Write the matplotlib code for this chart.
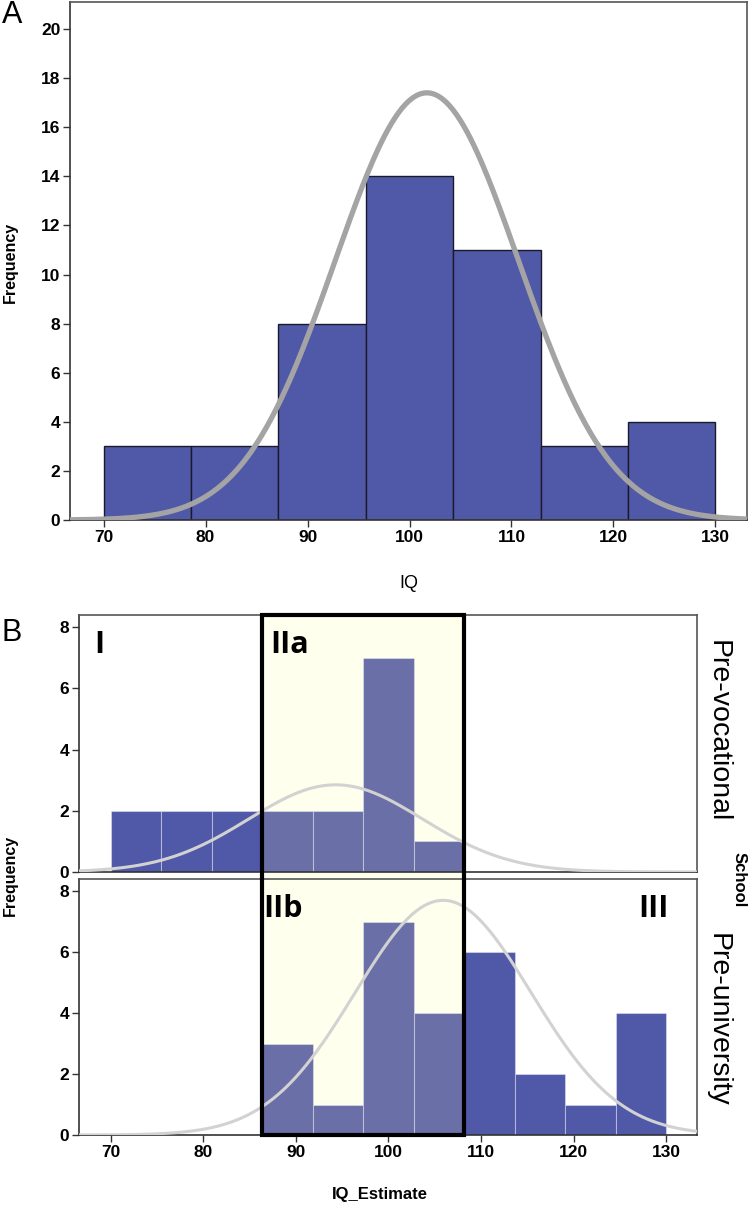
import numpy as np
import matplotlib
matplotlib.use('Agg')
import matplotlib.pyplot as plt
from matplotlib.patches import Rectangle
from matplotlib.transforms import blended_transform_factory
from matplotlib.font_manager import FontProperties

# Panel A: IQ histogram (7 bins, 70-130)
iq_edges = np.linspace(70, 130, 8)
iq_counts = [3, 3, 8, 14, 11, 3, 4]
iq_curve = dict(mean=101.7, sd=9.0, peak=17.4)

# Panel B: IQ_Estimate per school type (11 bins, 70-130)
est_edges = np.linspace(70, 130, 12)
prevoc_counts = [2, 2, 2, 2, 2, 7, 1, 0, 0, 0, 0]
preuni_counts = [0, 0, 0, 3, 1, 7, 4, 6, 2, 1, 4]
prevoc_curve = dict(mean=94.3, sd=9.4, peak=2.85)
preuni_curve = dict(mean=105.9, sd=9.5, peak=7.7)
box_range = (est_edges[3], est_edges[7])  # region II

BAR = '#5058a8'
BAR_IN = '#6a6fa8'
YELLOW = '#ffffee'
TICKFONT = dict(family='Liberation Sans', size=12.5, weight='bold')


def normal_curve(x, p):
    return p['peak'] * np.exp(-(x - p['mean']) ** 2 / (2 * p['sd'] ** 2))


def style_axes(ax):
    for s in ax.spines.values():
        s.set_color('#555555')
        s.set_linewidth(1.2)
    ax.spines['left'].set_color('#333333')
    ax.spines['bottom'].set_color('#333333')
    ax.tick_params(direction='out', length=5, width=1, color='#333333', pad=2)
    for lab in ax.get_xticklabels() + ax.get_yticklabels():
        lab.set_fontproperties(FontProperties(**TICKFONT))


fig = plt.figure(figsize=(7.49, 12.11), dpi=100)

# ---- Panel A ----
axA = fig.add_axes([70 / 749, 1 - 520 / 1211, 677 / 749, 518 / 1211])
axA.bar(iq_edges[:-1], iq_counts, width=np.diff(iq_edges), align='edge',
        color=BAR, edgecolor='#1a1a2a', linewidth=1.0)
xs = np.linspace(66.5, 133.5, 400)
axA.plot(xs, normal_curve(xs, iq_curve), color='#a4a4a4', lw=3.8, zorder=3)
axA.set_xlim(66.7, 133.1)
axA.set_ylim(0, 21.1)
axA.set_xticks(range(70, 131, 10))
axA.set_yticks(range(0, 21, 2))
style_axes(axA)
axA.set_xlabel('IQ', fontsize=13, family='Liberation Sans', labelpad=22)
fig.text(10 / 749, 1 - 262 / 1211, 'Frequency', rotation=90, fontsize=11.5,
         family='Liberation Sans', weight='bold', ha='center', va='center')
fig.text(0.002, 0.988, 'A', fontsize=22, family='Liberation Sans', va='center')

# ---- Panel B ----
left, width = 79 / 749, 618 / 749
axU = fig.add_axes([left, 1 - 872 / 1211, width, 257 / 1211], facecolor='none')
axL = fig.add_axes([left, 1 - 1135 / 1211, width, 256 / 1211], facecolor='none')

# shaded region II across both panels
trans = blended_transform_factory(axL.transData, fig.transFigure)
y0, y1 = 1 - 1135 / 1211, 1 - 615 / 1211
fig.patches.append(Rectangle((box_range[0], y0), box_range[1] - box_range[0], y1 - y0,
                             transform=trans, facecolor=YELLOW, edgecolor='none', zorder=-1))
fig.patches.append(Rectangle((box_range[0], y0), box_range[1] - box_range[0], y1 - y0,
                             transform=trans, facecolor='none', edgecolor='black', lw=3, zorder=5))

for ax, counts, curve in [(axU, prevoc_counts, prevoc_curve), (axL, preuni_counts, preuni_curve)]:
    lefts = est_edges[:-1]
    cols = [BAR_IN if (l >= box_range[0] - 1e-6 and l < box_range[1] - 1e-6) else BAR for l in lefts]
    ax.bar(lefts, counts, width=np.diff(est_edges), align='edge', color=cols,
           edgecolor=(1, 1, 1, 0.35), linewidth=0.8)
    ax.plot(xs, normal_curve(xs, curve), color='#d2d2d2', lw=2.2, zorder=3)
    ax.set_xlim(66.6, 133.3)
    ax.set_ylim(0, 8.4)
    ax.set_yticks(range(0, 9, 2))
    ax.set_xticks(range(70, 131, 10))
    style_axes(ax)

axU.tick_params(axis='x', length=0, labelbottom=False)

roman = dict(fontsize=22, family='Open Sans', weight='bold', va='top')
axU.text(0.025, 0.94, 'I', transform=axU.transAxes, **roman)
axU.text(0.31, 0.94, 'IIa', transform=axU.transAxes, **roman)
axL.text(0.298, 0.94, 'IIb', transform=axL.transAxes, **roman)
axL.text(0.905, 0.94, 'III', transform=axL.transAxes, **roman)

axU.text(1.012, 0.55, 'Pre-vocational', transform=axU.transAxes, rotation=-90,
         fontsize=20.5, family='Liberation Sans', va='center', ha='left')
axL.text(1.012, 0.45, 'Pre-university', transform=axL.transAxes, rotation=-90,
         fontsize=20.5, family='Liberation Sans', va='center', ha='left')
fig.text(739 / 749, 1 - 880 / 1211, 'School', rotation=270, fontsize=12,
         family='Liberation Sans', weight='bold', ha='center', va='center')
fig.text(10 / 749, 1 - 875 / 1211, 'Frequency', rotation=90, fontsize=11.5,
         family='Liberation Sans', weight='bold', ha='center', va='center')
fig.text(380 / 749, 1 - 1195 / 1211, 'IQ_Estimate', fontsize=12,
         family='Liberation Sans', weight='bold', ha='center', va='center')
fig.text(0.002, 1 - 633 / 1211, 'B', fontsize=22, family='Liberation Sans', va='center')

fig.savefig('out.png', dpi=100)
